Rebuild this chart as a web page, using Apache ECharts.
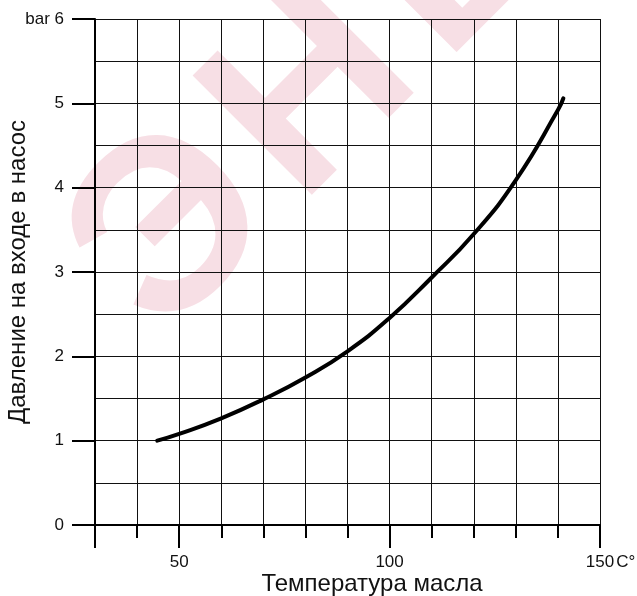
<!DOCTYPE html>
<html>
<head>
<meta charset="utf-8">
<script src="https://cdn.jsdelivr.net/npm/echarts@6/dist/echarts.min.js"></script>
<style>html,body{margin:0;padding:0;background:#fff}#c{width:637px;height:596px}</style>
</head>
<body>
<div id="c"></div>
<script>
// Data
const temperature = [44.8, 50, 60, 70, 80, 90, 100, 110, 120, 130, 140, 141.3];
const pressure    = [1.0, 1.08, 1.265, 1.49, 1.75, 2.06, 2.455, 2.935, 3.45, 4.09, 4.92, 5.06];
const xTickValues = ['30','40','50','60','70','80','90','100','110','120','130','140','150'];
const xLongTicks  = ['30','50','100','150'];
const xLabelTicks = ['50','100','150'];
const xName = 'Температура масла';
const yName = 'Давление на входе в насос';
const watermarkLetters = ['Э', 'Н', 'Е'];

const FONT = "'Liberation Sans', Arial, sans-serif";
const wmCenters = [[175, 232], [315, 96], [455, -42]];
const chart = echarts.init(document.getElementById('c'), null, {renderer: 'canvas'});
chart.setOption({
  animation: false,
  backgroundColor: '#fff',
  graphic: {
    elements: watermarkLetters.map((ch, i) => ({
      type: 'text',
      z: -100,
      silent: true,
      x: wmCenters[i][0], y: wmCenters[i][1],
      rotation: Math.PI / 4,
      style: {
        text: ch,
        font: "bold 245px " + FONT,
        fill: '#f7dfe5',
        textAlign: 'center',
        textVerticalAlign: 'middle'
      }
    }))
  },
  grid: {left: 95, right: 37, top: 19, bottom: 71, containLabel: false, outerBoundsMode: 'none'},
  xAxis: [{
    type: 'value', min: 30, max: 150, interval: 10,
    axisLine: {show: true, lineStyle: {color: '#000', width: 2}},
    axisTick: {show: true, length: 13, lineStyle: {color: '#000', width: 2}},
    axisLabel: {show: false},
    splitLine: {show: true, lineStyle: {color: '#111', width: 1}}
  }, {
    type: 'category', data: xTickValues, boundaryGap: false, position: 'bottom',
    axisLine: {show: false},
    axisTick: {show: true, length: 23, lineStyle: {color: '#000', width: 2},
      interval: function (i, v) { return xLongTicks.indexOf(v) >= 0; }},
    axisLabel: {
      show: true, margin: 29, fontSize: 17, color: '#111', fontFamily: FONT,
      interval: function (i, v) { return xLabelTicks.indexOf(v) >= 0; },
      formatter: function (v) { return v === '150' ? '{n|150}{u|C°}' : v; },
      rich: {
        n: {fontSize: 17, fontFamily: FONT, color: '#111', padding: [0, 0, 0, 21]},
        u: {fontSize: 17, fontFamily: FONT, color: '#111', padding: [0, 0, 0, 2]}
      }
    },
    splitLine: {show: false},
    name: xName, nameLocation: 'middle', nameGap: 47, nameMoveOverlap: false,
    nameTextStyle: {fontSize: 24, fontFamily: FONT, color: '#111', padding: [0, 0, 0, 49]}
  }],
  yAxis: {
    type: 'value', min: 0, max: 6, interval: 1,
    axisLine: {show: true, lineStyle: {color: '#000', width: 2}},
    axisTick: {show: true, length: 23, lineStyle: {color: '#000', width: 2}},
    minorTick: {show: false, splitNumber: 2},
    axisLabel: {show: true, margin: 31, fontSize: 17, color: '#111', fontFamily: FONT,
      formatter: function (v) { return v === 6 ? 'bar 6' : String(v); }},
    splitLine: {show: true, lineStyle: {color: '#111', width: 1}},
    minorSplitLine: {show: true, lineStyle: {color: '#111', width: 1}},
    name: yName, nameLocation: 'middle', nameGap: 65, nameRotate: 90, nameMoveOverlap: false,
    nameTextStyle: {fontSize: 24, fontFamily: FONT, color: '#111'}
  },
  series: [{
    type: 'line',
    xAxisIndex: 0,
    data: temperature.map((t, i) => [t, pressure[i]]),
    smooth: 0.5,
    showSymbol: false,
    lineStyle: {color: '#000', width: 4, cap: 'round'},
    z: 10
  }]
});
</script>
</body>
</html>
